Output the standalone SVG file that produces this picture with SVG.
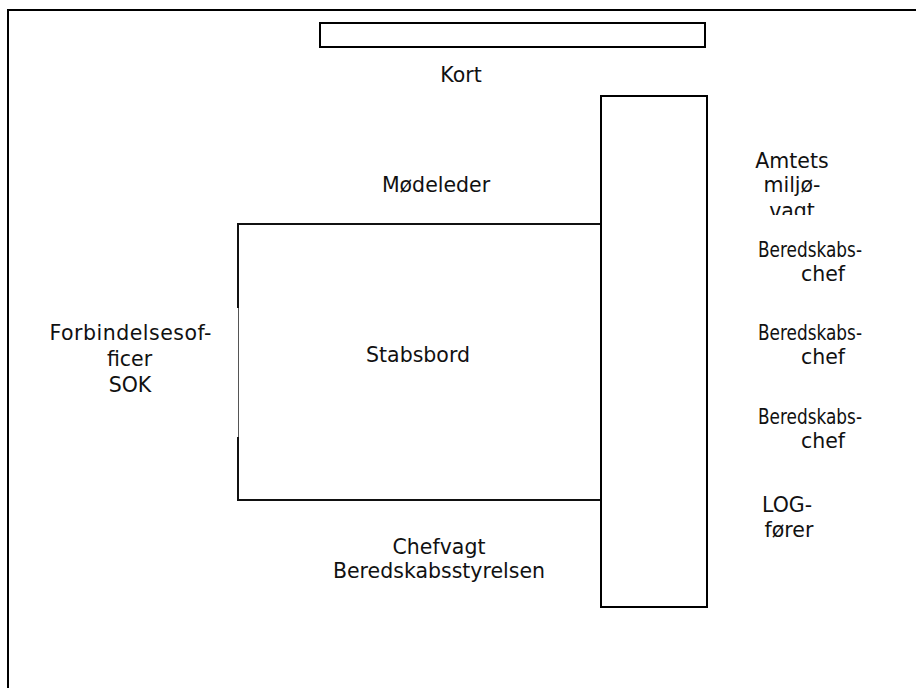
<svg xmlns="http://www.w3.org/2000/svg" width="916" height="688" viewBox="0 0 916 688">
  <defs>
    <style>
      .frame { fill: none; stroke: #000; stroke-width: 2; }
      .box { fill: #fff; stroke: #000; stroke-width: 2; }
      .edge { fill: none; stroke: #111; stroke-width: 2; }
      .thin { fill: none; stroke: #555; stroke-width: 1; }
      .lbl { font-family: "DejaVu Sans", Verdana, sans-serif; font-size: 20.5px; fill: #111; text-anchor: middle; }
    </style>
    <clipPath id="clip-miljo">
      <rect x="730" y="140" width="130" height="75"/>
    </clipPath>
  </defs>

  <rect width="916" height="688" fill="#fff"/>

  <!-- page frame: top and left rules only -->
  <g id="frame">
    <path class="frame" d="M8,688 V10 H916"/>
  </g>

  <!-- wall map -->
  <g id="kort">
    <rect class="box" x="320" y="23" width="385" height="24"/>
    <text class="lbl" x="461" y="82">Kort</text>
  </g>

  <!-- staff table -->
  <g id="stabsbord">
    <path class="edge" d="M238,308 V224 H601"/>
    <path class="thin" d="M238.5,308 V437"/>
    <path class="edge" d="M238,437 V500 H601"/>
    <text class="lbl" x="418" y="362">Stabsbord</text>
  </g>

  <!-- side table -->
  <g id="sidebord">
    <rect class="box" x="601" y="96" width="106" height="511"/>
  </g>

  <g id="modeleder">
    <text class="lbl" x="436" y="192">Mødeleder</text>
  </g>

  <g id="forbindelsesofficer">
    <text class="lbl" x="130.5" y="340" textLength="162">Forbindelsesof-</text>
    <text class="lbl" x="129.5" y="366">ficer</text>
    <text class="lbl" x="130" y="392">SOK</text>
  </g>

  <g id="chefvagt">
    <text class="lbl" x="439" y="554">Chefvagt</text>
    <text class="lbl" x="439" y="578">Beredskabsstyrelsen</text>
  </g>

  <g id="amtets-miljovagt" clip-path="url(#clip-miljo)">
    <text class="lbl" x="792" y="168">Amtets</text>
    <text class="lbl" x="792" y="192">miljø-</text>
    <text class="lbl" x="792" y="218">vagt</text>
  </g>

  <g id="beredskabschef-1">
    <text class="lbl" x="810" y="257" textLength="104" lengthAdjust="spacingAndGlyphs">Beredskabs-</text>
    <text class="lbl" x="823" y="281">chef</text>
  </g>

  <g id="beredskabschef-2">
    <text class="lbl" x="810" y="340" textLength="104" lengthAdjust="spacingAndGlyphs">Beredskabs-</text>
    <text class="lbl" x="823" y="364">chef</text>
  </g>

  <g id="beredskabschef-3">
    <text class="lbl" x="810" y="424" textLength="104" lengthAdjust="spacingAndGlyphs">Beredskabs-</text>
    <text class="lbl" x="823" y="448">chef</text>
  </g>

  <g id="logforer">
    <text class="lbl" x="787" y="512">LOG-</text>
    <text class="lbl" x="789" y="537">fører</text>
  </g>
</svg>
